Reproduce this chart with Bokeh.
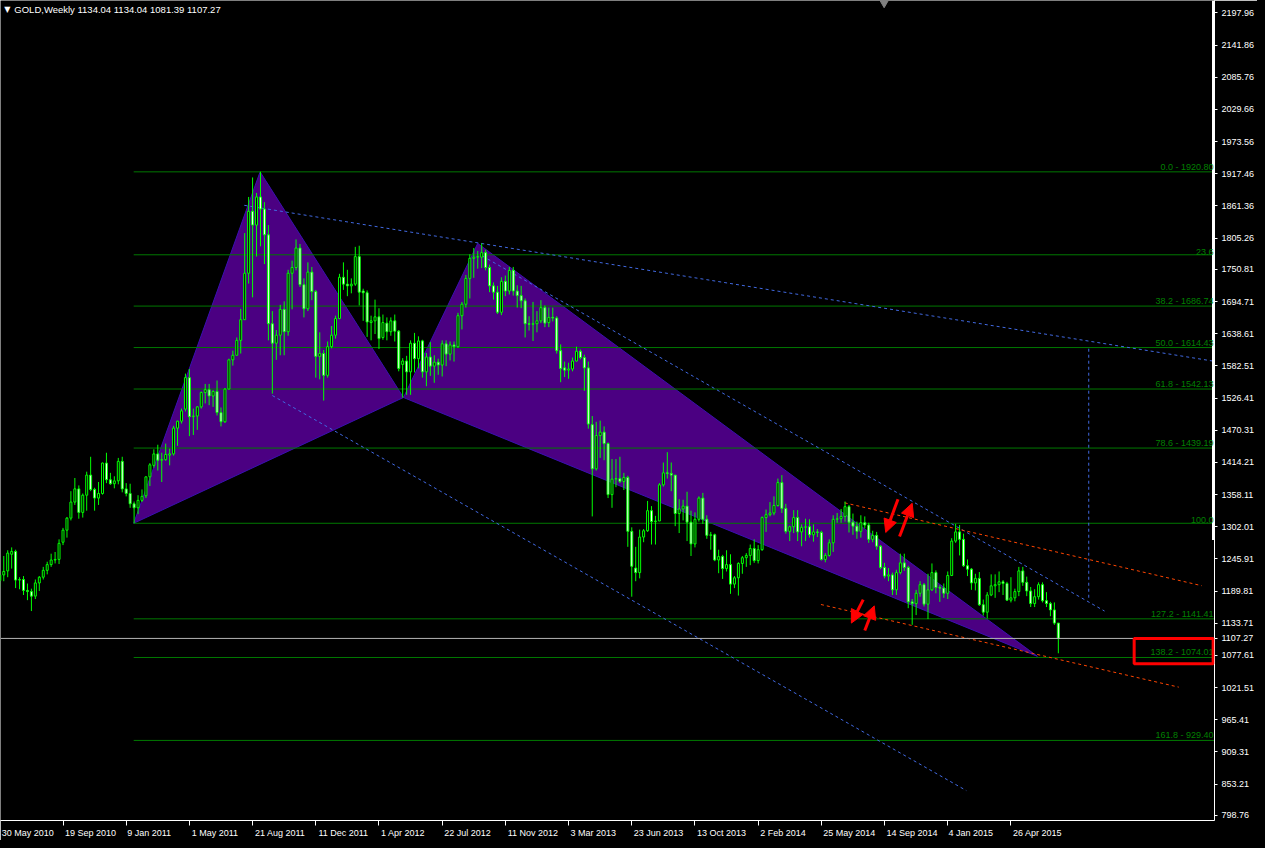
from bokeh.plotting import figure
from bokeh.models import (ColumnDataSource, Range1d, FixedTicker, PrintfTickFormatter,
                          Span, Label, LabelSet, Arrow, NormalHead, BoxAnnotation)
from bokeh.core.properties import value
from bokeh.embed import file_html
from bokeh.resources import INLINE

# ---------------- data: GOLD weekly candles (week 0 = 30 May 2010) ----------------
opens = [1208, 1218, 1225, 1254, 1259, 1209, 1210, 1191, 1189, 1181,
         1204, 1214, 1226, 1236, 1244, 1245, 1275, 1296, 1317, 1345,
         1368, 1327, 1357, 1392, 1367, 1352, 1360, 1413, 1384, 1377,
         1382, 1416, 1368, 1360, 1342, 1335, 1348, 1356, 1389, 1409,
         1429, 1418, 1419, 1427, 1429, 1474, 1486, 1507, 1562, 1494,
         1495, 1511, 1536, 1541, 1530, 1538, 1501, 1485, 1542, 1593,
         1601, 1627, 1663, 1744, 1852, 1828, 1877, 1856, 1811, 1656,
         1622, 1636, 1681, 1642, 1744, 1754, 1788, 1724, 1682, 1746,
         1712, 1599, 1604, 1566, 1616, 1636, 1665, 1737, 1725, 1722,
         1725, 1773, 1713, 1710, 1658, 1661, 1668, 1632, 1657, 1642,
         1661, 1643, 1585, 1591, 1572, 1622, 1595, 1626, 1572, 1598,
         1582, 1589, 1584, 1621, 1603, 1619, 1616, 1670, 1690, 1735,
         1770, 1772, 1772, 1780, 1754, 1722, 1711, 1676, 1730, 1713,
         1749, 1713, 1705, 1696, 1656, 1655, 1656, 1661, 1684, 1658,
         1667, 1666, 1609, 1579, 1575, 1577, 1591, 1608, 1597, 1579,
         1480, 1403, 1461, 1467, 1447, 1358, 1385, 1386, 1381, 1388,
         1294, 1230, 1222, 1284, 1295, 1330, 1311, 1312, 1375, 1396,
         1395, 1392, 1325, 1333, 1338, 1310, 1272, 1315, 1352, 1315,
         1287, 1288, 1244, 1250, 1229, 1236, 1202, 1213, 1238, 1248,
         1252, 1264, 1243, 1262, 1318, 1323, 1326, 1339, 1379, 1334,
         1294, 1302, 1318, 1293, 1301, 1302, 1288, 1293, 1292, 1245,
         1252, 1274, 1315, 1316, 1320, 1337, 1310, 1303, 1294, 1309,
         1305, 1280, 1287, 1268, 1231, 1216, 1218, 1192, 1222, 1239,
         1231, 1171, 1168, 1186, 1201, 1167, 1192, 1222, 1196, 1195,
         1186, 1217, 1277, 1293, 1280, 1234, 1228, 1204, 1212, 1166,
         1153, 1183, 1199, 1201, 1206, 1203, 1174, 1178, 1189, 1225,
         1205, 1190, 1168, 1180, 1201, 1173, 1168, 1157, 1134.04]
highs = [1227, 1251, 1261, 1266, 1262, 1214, 1216, 1203, 1194, 1210,
         1216, 1232, 1241, 1255, 1258, 1280, 1300, 1319, 1364, 1387,
         1374, 1360, 1398, 1424, 1370, 1380, 1414, 1431, 1396, 1390,
         1422, 1424, 1378, 1377, 1346, 1357, 1367, 1390, 1413, 1437,
         1445, 1431, 1447, 1438, 1478, 1487, 1508, 1569, 1577, 1508,
         1512, 1538, 1551, 1551, 1540, 1557, 1510, 1544, 1595, 1609,
         1632, 1682, 1814, 1877, 1911, 1884, 1921, 1868, 1828, 1678,
         1645, 1689, 1695, 1750, 1766, 1803, 1795, 1735, 1763, 1755,
         1715, 1641, 1610, 1625, 1652, 1670, 1743, 1763, 1750, 1735,
         1790, 1792, 1717, 1714, 1670, 1698, 1683, 1672, 1667, 1667,
         1672, 1645, 1596, 1600, 1627, 1640, 1634, 1628, 1605, 1624,
         1601, 1595, 1627, 1627, 1625, 1625, 1675, 1694, 1741, 1777,
         1788, 1783, 1796, 1785, 1759, 1728, 1722, 1737, 1740, 1755,
         1755, 1723, 1722, 1700, 1669, 1694, 1678, 1697, 1688, 1684,
         1684, 1669, 1620, 1590, 1588, 1597, 1616, 1611, 1602, 1590,
         1495, 1485, 1487, 1477, 1449, 1420, 1420, 1424, 1396, 1391,
         1301, 1267, 1297, 1298, 1347, 1338, 1321, 1378, 1414, 1432,
         1414, 1392, 1350, 1349, 1363, 1330, 1327, 1355, 1361, 1322,
         1293, 1290, 1262, 1253, 1261, 1254, 1216, 1240, 1251, 1256,
         1271, 1280, 1270, 1320, 1332, 1345, 1355, 1386, 1392, 1342,
         1304, 1331, 1331, 1306, 1316, 1315, 1306, 1298, 1295, 1256,
         1280, 1322, 1326, 1333, 1346, 1340, 1325, 1311, 1322, 1320,
         1309, 1295, 1293, 1270, 1239, 1230, 1222, 1227, 1255, 1255,
         1234, 1176, 1192, 1207, 1204, 1220, 1238, 1226, 1200, 1203,
         1224, 1282, 1307, 1305, 1290, 1245, 1230, 1220, 1223, 1175,
         1188, 1219, 1219, 1224, 1209, 1206, 1214, 1194, 1232, 1232,
         1215, 1197, 1193, 1205, 1205, 1188, 1171, 1170, 1134.04]
lows = [1196, 1207, 1214, 1229, 1195, 1193, 1183, 1174, 1155, 1176,
        1190, 1210, 1219, 1232, 1238, 1237, 1270, 1283, 1313, 1340,
        1316, 1318, 1330, 1364, 1330, 1340, 1358, 1378, 1375, 1369,
        1376, 1362, 1355, 1335, 1308, 1324, 1345, 1352, 1373, 1405,
        1400, 1380, 1417, 1409, 1426, 1443, 1482, 1503, 1460, 1462,
        1471, 1508, 1517, 1514, 1511, 1496, 1477, 1483, 1542, 1583,
        1601, 1604, 1663, 1726, 1702, 1773, 1791, 1760, 1627, 1534,
        1593, 1601, 1601, 1635, 1681, 1749, 1720, 1667, 1678, 1697,
        1562, 1559, 1522, 1562, 1613, 1630, 1664, 1715, 1704, 1709,
        1722, 1688, 1661, 1633, 1627, 1638, 1612, 1628, 1627, 1635,
        1625, 1573, 1527, 1532, 1532, 1571, 1578, 1562, 1547, 1565,
        1553, 1567, 1564, 1582, 1592, 1590, 1614, 1646, 1684, 1700,
        1736, 1752, 1753, 1749, 1711, 1698, 1673, 1671, 1704, 1707,
        1705, 1684, 1683, 1632, 1644, 1626, 1641, 1657, 1650, 1650,
        1660, 1604, 1554, 1563, 1560, 1573, 1590, 1594, 1539, 1473,
        1320, 1400, 1422, 1418, 1352, 1335, 1371, 1378, 1366, 1267,
        1180, 1207, 1212, 1275, 1293, 1271, 1271, 1312, 1372, 1386,
        1364, 1303, 1291, 1313, 1277, 1251, 1266, 1311, 1307, 1281,
        1262, 1242, 1221, 1211, 1224, 1185, 1195, 1182, 1220, 1232,
        1235, 1239, 1238, 1260, 1293, 1320, 1322, 1337, 1326, 1290,
        1277, 1291, 1277, 1268, 1277, 1283, 1276, 1284, 1243, 1240,
        1250, 1258, 1309, 1309, 1311, 1292, 1288, 1281, 1283, 1299,
        1274, 1275, 1262, 1228, 1212, 1207, 1183, 1183, 1219, 1225,
        1160, 1131, 1148, 1180, 1163, 1141, 1190, 1186, 1171, 1178,
        1176, 1216, 1274, 1252, 1232, 1216, 1192, 1191, 1164, 1147,
        1142, 1181, 1178, 1188, 1183, 1173, 1170, 1172, 1181, 1199,
        1181, 1162, 1162, 1175, 1170, 1162, 1146, 1131, 1081.39]
closes = [1218, 1224, 1256, 1259, 1209, 1210, 1191, 1189, 1181, 1204,
          1214, 1226, 1236, 1244, 1245, 1273, 1296, 1317, 1345, 1368,
          1327, 1357, 1392, 1367, 1352, 1360, 1413, 1384, 1377, 1382,
          1416, 1368, 1360, 1342, 1335, 1348, 1355, 1389, 1410, 1429,
          1418, 1419, 1428, 1429, 1474, 1486, 1504, 1562, 1494, 1495,
          1511, 1536, 1541, 1530, 1538, 1501, 1485, 1542, 1593, 1601,
          1627, 1663, 1744, 1852, 1828, 1877, 1856, 1811, 1656, 1622,
          1636, 1681, 1642, 1744, 1754, 1788, 1724, 1682, 1746, 1712,
          1599, 1604, 1566, 1616, 1636, 1665, 1737, 1725, 1722, 1725,
          1773, 1711, 1710, 1659, 1661, 1668, 1630, 1658, 1642, 1661,
          1643, 1578, 1591, 1572, 1622, 1595, 1626, 1572, 1598, 1582,
          1589, 1584, 1621, 1603, 1619, 1616, 1670, 1690, 1735, 1770,
          1772, 1773, 1780, 1754, 1722, 1711, 1676, 1730, 1713, 1749,
          1713, 1705, 1696, 1656, 1655, 1656, 1661, 1684, 1657, 1667,
          1666, 1609, 1578, 1575, 1577, 1591, 1608, 1597, 1579, 1481,
          1403, 1461, 1467, 1447, 1358, 1385, 1386, 1381, 1388, 1294,
          1233, 1222, 1284, 1295, 1330, 1311, 1312, 1375, 1396, 1395,
          1392, 1325, 1333, 1338, 1310, 1272, 1315, 1352, 1315, 1287,
          1288, 1244, 1250, 1229, 1236, 1202, 1213, 1238, 1248, 1252,
          1264, 1243, 1262, 1318, 1323, 1326, 1339, 1379, 1334, 1294,
          1302, 1318, 1293, 1301, 1302, 1288, 1293, 1292, 1245, 1252,
          1274, 1315, 1316, 1320, 1337, 1310, 1303, 1294, 1309, 1305,
          1280, 1287, 1268, 1231, 1216, 1218, 1192, 1222, 1239, 1231,
          1171, 1168, 1186, 1201, 1167, 1192, 1222, 1196, 1195, 1186,
          1217, 1277, 1293, 1280, 1234, 1228, 1204, 1212, 1166, 1153,
          1183, 1199, 1201, 1206, 1203, 1174, 1178, 1189, 1225, 1205,
          1190, 1168, 1180, 1201, 1173, 1168, 1157, 1134, 1107.27]

# x-axis ticks (bar index of each labelled week) and their labels
date_tick_bars = [0, 16, 32, 48, 64, 80, 96, 112, 128, 144, 160, 176, 192, 208, 224, 240, 256]
date_tick_labels = ["30 May 2010", "19 Sep 2010", "9 Jan 2011", "1 May 2011", "21 Aug 2011",
                    "11 Dec 2011", "1 Apr 2012", "22 Jul 2012", "11 Nov 2012", "3 Mar 2013",
                    "23 Jun 2013", "13 Oct 2013", "2 Feb 2014", "25 May 2014", "14 Sep 2014",
                    "4 Jan 2015", "26 Apr 2015"]
# approximate rendered widths (px) of the date labels, used to left-align them at their tick
date_label_px = [52, 51, 42, 47, 51, 51, 44, 46.5, 51, 45.5, 49.5, 49, 45.5, 52, 51, 42, 49]

price_ticks = [2197.96, 2141.86, 2085.76, 2029.66, 1973.56, 1917.46, 1861.36, 1805.26,
               1750.81, 1694.71, 1638.61, 1582.51, 1526.41, 1470.31, 1414.21, 1358.11,
               1302.01, 1245.91, 1189.81, 1133.71, 1107.27, 1077.61, 1021.51, 965.41, 909.31,
               853.21, 798.76]

# Fibonacci levels
fib_start_bar = 33.9
fib_levels = [1920.80, 1776.19, 1686.74, 1614.43, 1542.13, 1439.19, 1308.06, 1141.41, 1074.01, 929.40]
fib_texts = ["0.0 - 1920.80", "23.6", "38.2 - 1686.74", "50.0 - 1614.43", "61.8 - 1542.13",
             "78.6 - 1439.19", "100.0", "127.2 - 1141.41", "138.2 - 1074.01", "161.8 - 929.40"]

# harmonic pattern X, A, B, C, D (bar, price)
pattern_bars = [33.9, 65.9, 102.2, 121.0, 262.7]
pattern_prices = [1308.06, 1920.80, 1527.4, 1796.0, 1076.0]

# trend lines (bar0, price0, bar1, price1)
blue_lines = [(61.9, 1862.4, 318.4, 1578.4),
              (122.2, 1774.0, 279.7, 1155.0),
              (69.0, 1530.8, 244.7, 842.0),
              (275.7, 1612.4, 275.7, 1175.4)]
orange_lines = [(213.9, 1343.7, 304.3, 1199.2),
                (207.9, 1166.4, 298.5, 1022.3)]
# red arrows (tail bar, tail price, head bar, head price)
red_arrows = [(227.4, 1350.0, 224.3, 1292.0),
              (227.8, 1285.0, 231.0, 1343.0),
              (218.6, 1175.0, 215.6, 1134.0),
              (219.0, 1121.0, 221.4, 1164.0)]
# highlighted box (bar0, bar1, price_bottom, price_top)
red_box = (287.2, 307.2, 1063.1, 1107.3)

header = "GOLD,Weekly  1134.04 1134.04 1081.39 1107.27"
last_price = 1107.27

# ---------------- figure ----------------
X0, X1 = 0.175, 307.54
Y0, Y1 = 789.8, 2219.56
FONT = "Liberation Sans"
SX = 1257 / 1273.0

p = figure(width=1257, height=840, x_range=Range1d(X0, X1), y_range=Range1d(Y0, Y1),
           y_axis_location="right", output_backend="svg", toolbar_location=None,
           background_fill_color="black", border_fill_color="black",
           min_border_left=0, min_border_top=0, min_border_right=43, min_border_bottom=15)
p.styles = {"box-shadow": "0 0 0 8px #000000"}
p.outline_line_color = None
p.grid.visible = False

ya = p.yaxis[0]
ya.ticker = FixedTicker(ticks=price_ticks)
ya.formatter = PrintfTickFormatter(format="%.2f")
ya.axis_line_color = "white"
ya.major_tick_line_color = "white"
ya.minor_tick_line_color = None
ya.major_tick_out = 3
ya.major_tick_in = 0
ya.major_label_standoff = 4
ya.major_label_text_color = "white"
ya.major_label_text_font = FONT
ya.major_label_text_font_size = "9px"

# bottom axis: tick marks as minor ticks at the dates, labels left-aligned after them
label_centres = [round(b + (2 + w / 2.0) / (4 * SX), 3) for b, w in zip(date_tick_bars, date_label_px)]
xa = p.xaxis[0]
xa.ticker = FixedTicker(ticks=label_centres, minor_ticks=date_tick_bars)
xa.major_label_overrides = {c: t for c, t in zip(label_centres, date_tick_labels)}
xa.axis_line_color = "white"
xa.major_tick_line_color = None
xa.major_tick_out = 0
xa.major_tick_in = 0
xa.minor_tick_line_color = "white"
xa.minor_tick_out = 5
xa.minor_tick_in = 0
xa.major_label_standoff = 2
xa.major_label_text_color = "white"
xa.major_label_text_font = FONT
xa.major_label_text_font_size = "9px"

# harmonic pattern triangles
p.patch(pattern_bars[0:3], pattern_prices[0:3], fill_color="#4b0082", line_color="#3a10b0", line_width=1)
p.patch(pattern_bars[2:5], pattern_prices[2:5], fill_color="#4b0082", line_color="#3a10b0", line_width=1)

# fibonacci lines
p.segment(x0=[fib_start_bar] * len(fib_levels), y0=fib_levels,
          x1=[X1 + 5] * len(fib_levels), y1=fib_levels, line_color="#007800", line_width=1)
fib_src = ColumnDataSource(dict(x=[X1] * len(fib_levels), y=fib_levels, t=fib_texts))
p.add_layout(LabelSet(x="x", y="y", text="t", source=fib_src, text_align="right",
                      text_baseline="bottom", x_offset=-1, text_color="#008000",
                      text_font=value(FONT), text_font_size="9px"))

# trend lines
for (a0, b0, a1, b1) in blue_lines:
    p.line([a0, a1], [b0, b1], line_color="#4169e1", line_width=1, line_dash="3 3")
for (a0, b0, a1, b1) in orange_lines:
    p.line([a0, a1], [b0, b1], line_color="#ff4500", line_width=1, line_dash="3 3")

# candles
idx = list(range(len(closes)))
tops = [max(o, c) for o, c in zip(opens, closes)]
bots = [min(o, c) for o, c in zip(opens, closes)]
fills = ["black" if c >= o else "white" for o, c in zip(opens, closes)]
src = ColumnDataSource(dict(x=idx, o=opens, h=highs, l=lows, c=closes, top=tops, bot=bots, fill=fills))
p.segment(x0="x", y0="l", x1="x", y1="h", source=src, line_color="#00ff00", line_width=1)
p.vbar(x="x", width=0.5, top="top", bottom="bot", source=src, fill_color="fill",
       line_color="#00ff00", line_width=1)

# red arrows
for (a0, b0, a1, b1) in red_arrows:
    p.add_layout(Arrow(x_start=a0, y_start=b0, x_end=a1, y_end=b1, line_color="red", line_width=3,
                       end=NormalHead(size=13, fill_color="red", line_color="red")))

# current price line
p.add_layout(Span(location=last_price, dimension="width", line_color="#b4b4b4", line_width=1))

# thick part of the right border
p.segment(x0=[X1], y0=[Y1], x1=[X1], y1=[1279.1], line_color="white", line_width=5)

# red highlight box
p.add_layout(BoxAnnotation(left=red_box[0], right=red_box[1], bottom=red_box[2], top=red_box[3],
                           fill_alpha=0, line_color="red", line_alpha=1.0, line_width=3))

# small chart-shift marker at the top
p.scatter(x=[223.9], y=[2215.0], marker="inverted_triangle", size=8, color="#808080")

# header
p.add_layout(Label(x=1.9, y=2204.25, text="\u25bc", text_align="center", text_baseline="middle",
                   text_color="white", text_font="DejaVu Sans", text_font_size="8px"))
p.add_layout(Label(x=3.675, y=2204.25, text=header, text_baseline="middle", text_color="white",
                   text_font=FONT, text_font_size="9.5px"))

open("out.html", "w").write(file_html(p, INLINE))
